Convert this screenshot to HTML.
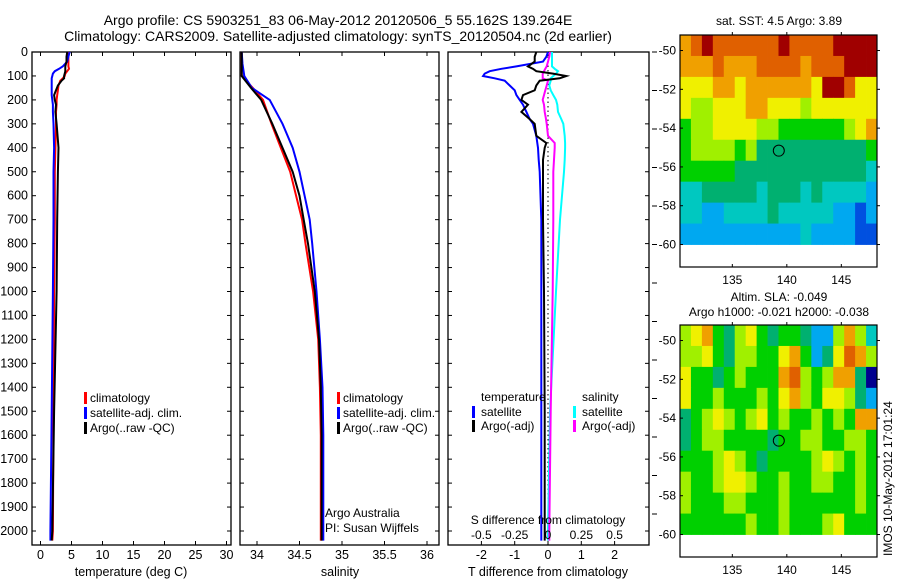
<!DOCTYPE html>
<html><head><meta charset="utf-8">
<style>
html,body{margin:0;padding:0;background:#fff;}
svg{display:block;font-family:"Liberation Sans",sans-serif;}
text{font-size:12.5px;fill:#000;}
</style></head>
<body>
<svg id="chart" width="900" height="580" viewBox="0 0 900 580" xmlns="http://www.w3.org/2000/svg">
<text x="338" y="25" text-anchor="middle" style="font-size:14px">Argo profile: CS 5903251_83 06-May-2012 20120506_5 55.162S 139.264E</text>
<text x="338" y="41" text-anchor="middle" style="font-size:14px">Climatology: CARS2009. Satellite-adjusted climatology: synTS_20120504.nc (2d earlier)</text>
<g id="g"></g>
</svg>
<script>
// ---------- data ----------
const depthTicks = [0,100,200,300,400,500,600,700,800,900,1000,1100,1200,1300,1400,1500,1600,1700,1800,1900,2000];
const tempTicks = [0,5,10,15,20,25,30];
const salTicks = [34,34.5,35,35.5,36];
const salTickLabels = ["34","34.5","35","35.5","36"];
const dTTicks = [-2,-1,0,1,2];
const dSTicks = [-0.5,-0.25,0,0.25,0.5];
const dSTickLabels = ["-0.5","-0.25","0","0.25","0.5"];

const tDepth = [0,20,40,60,70,80,90,100,110,120,140,160,180,200,220,250,300,400,500,700,1000,1500,2000,2040];
const climT  = [4.5,4.5,4.5,4.5,4.6,4.3,4.0,3.9,3.6,3.2,2.9,2.8,2.7,2.6,2.6,2.5,2.5,2.4,2.3,2.3,2.2,2.1,2.0,1.9];
const satT   = [4.7,4.5,4.3,3.6,3.0,2.3,2.0,1.9,1.8,1.8,1.8,1.8,1.8,1.9,2.0,2.0,2.1,2.2,2.1,2.1,2.0,1.8,1.6,1.6];
const argoT  = [4.3,4.2,4.2,4.0,4.0,4.0,3.9,3.8,3.8,3.4,2.8,2.5,2.2,2.3,2.5,2.4,2.6,2.9,2.8,2.7,2.6,2.2,1.9,1.8];

const sDepth = [0,50,100,150,200,300,400,500,600,700,800,1000,1200,1400,1600,2000,2040];
const climS  = [33.82,33.82,33.82,33.95,34.07,34.17,34.28,34.39,34.46,34.53,34.57,34.66,34.72,34.74,34.75,34.75,34.75];
const satS   = [33.82,33.83,33.85,33.94,34.15,34.30,34.42,34.50,34.56,34.62,34.65,34.70,34.74,34.77,34.78,34.78,34.78];
const argoS  = [33.82,33.82,33.82,33.93,34.05,34.18,34.30,34.42,34.50,34.55,34.60,34.68,34.73,34.75,34.76,34.76,34.76];

const dDepth = [0,20,40,60,70,80,90,100,110,120,140,160,180,200,220,250,280,300,350,380,400,450,500,700,1000,1500,2000,2040];
const satDT  = [0,-0.05,-0.15,-0.95,-1.4,-1.75,-1.9,-1.95,-1.6,-1.3,-1.15,-1.0,-0.95,-0.85,-0.75,-0.65,-0.55,-0.45,-0.35,-0.32,-0.3,-0.28,-0.25,-0.2,-0.2,-0.2,-0.2,-0.2];
const argoDT = [-0.35,-0.4,-0.4,-0.6,-0.45,-0.35,0.15,0.55,0.35,-0.25,-0.35,-0.4,-0.75,-0.8,-0.6,-0.8,-0.55,-0.4,-0.35,-0.05,-0.1,-0.15,-0.15,-0.15,-0.12,-0.1,-0.1,-0.1];
const satDS  = [0.03,0.03,0.03,0.03,0.05,0.075,0.06,0.04,0.02,0.02,0.01,0.02,0.04,0.06,0.07,0.075,0.1,0.115,0.125,0.128,0.128,0.125,0.12,0.09,0.06,0.015,0.0,0.0];
const argoDS = [0.015,0.01,0.0,-0.01,-0.02,-0.03,-0.04,-0.04,-0.04,0.0,-0.01,-0.02,-0.03,-0.04,-0.03,-0.025,-0.015,-0.01,0.0,0.05,0.05,0.045,0.04,0.04,0.035,0.02,0.01,0.01];

const latTicks = [-50,-52,-54,-56,-58,-60];
const lonTicks = [135,140,145];
const sstGrid = [
[8,9,10,9,9,9,9,9,9,10,9,9,9,9,10,10,10,10],
[8,8,8,9,8,8,8,9,9,9,9,8,9,9,9,10,10,10],
[7,7,7,8,8,7,8,8,8,8,8,8,7,10,10,9,7,7],
[7,6,6,7,7,7,8,8,7,7,7,6,7,7,7,7,7,7],
[5,6,6,7,7,7,7,6,6,5,5,5,5,5,5,6,7,8],
[5,6,6,6,6,5,6,4,4,4,4,4,4,4,4,4,4,5],
[5,5,5,5,5,4,4,4,4,4,4,4,4,4,4,4,4,3],
[3,3,4,4,4,4,4,3,4,4,4,3,4,3,3,3,3,2],
[3,3,2,2,3,3,3,3,4,3,3,3,3,3,2,2,1,2],
[2,2,2,2,2,2,2,2,2,2,2,3,2,2,2,2,1,1]];
const slaGrid = [
[6,7,8,5,4,6,7,5,4,5,5,4,2,2,6,8,6,3],
[6,6,7,5,4,6,6,5,5,7,8,5,2,4,7,9,8,6],
[7,5,5,4,5,6,5,5,5,8,9,6,5,6,8,8,4,0],
[7,5,5,6,5,5,5,6,5,7,8,6,5,7,7,6,4,2],
[4,5,6,7,6,5,6,7,5,6,5,5,6,5,6,5,8,8],
[4,5,6,6,5,5,5,5,4,5,5,6,6,5,5,6,6,5],
[5,5,5,6,7,6,5,4,5,5,5,5,6,7,6,5,6,5],
[6,5,5,6,7,7,6,5,5,6,5,5,6,6,5,5,6,5],
[6,5,5,5,6,6,5,5,5,6,5,5,5,5,5,5,6,5],
[5,5,5,5,5,5,6,5,5,6,5,5,5,6,7,5,5,5]];
const floatLon = 139.264, floatLat = -55.162;

// ---------- helpers ----------
const NS="http://www.w3.org/2000/svg";
const G=document.getElementById('g');
function mk(tag,attrs,parent){const e=document.createElementNS(NS,tag);for(const k in attrs)e.setAttribute(k,attrs[k]);(parent||G).appendChild(e);return e;}
function txt(x,y,s,anchor,size){const t=mk('text',{x:x,y:y,'text-anchor':anchor||'start'});if(size)t.style.fontSize=size+'px';t.textContent=s;return t;}
const Y=d=>52+d*0.2395;
const xT=v=>40.5+v*6.2;
const xS=v=>257+(v-34)*85;
const xD=v=>548+v*33.3;
const xDS=v=>548+v*133.3;
const TOP=52,BOT=545;
function poly(xs,ds,fx,color,name){const pts=xs.map((v,i)=>fx(v).toFixed(1)+','+Y(ds[i]).toFixed(1)).join(' ');
 const p=mk('polyline',{points:pts,fill:'none',stroke:color,'stroke-width':2,'stroke-linejoin':'miter'});
 
 }
function frame(x0,x1,name){const r=mk('rect',{x:x0,y:TOP,width:x1-x0,height:BOT-TOP,fill:'none',stroke:'#000','stroke-width':1.3});
 
 
 depthTicks.forEach(d=>{mk('line',{x1:x0,x2:x0+4,y1:Y(d),y2:Y(d),stroke:'#000'});mk('line',{x1:x1,x2:x1-4,y1:Y(d),y2:Y(d),stroke:'#000'});});}
function xticks(vals,labels,fx){vals.forEach((v,i)=>{const x=fx(v);mk('line',{x1:x,x2:x,y1:TOP,y2:TOP+4,stroke:'#000'});mk('line',{x1:x,x2:x,y1:BOT,y2:BOT-4,stroke:'#000'});
 const t=txt(x,559,labels[i],'middle');});}
function legBar(x,y,c){mk('rect',{x:x,y:y-10,width:3,height:12,fill:c});}

// ---------- panel 1: temperature ----------
frame(32,231,'temperature-panel');
depthTicks.forEach(d=>{const t=txt(28,Y(d)+4,String(d),'end');});
xticks(tempTicks,tempTicks.map(String),xT);
let t1=txt(131,576,'temperature (deg C)','middle');
poly(climT,tDepth,xT,'#f00','climatology-temp-line');
poly(satT,tDepth,xT,'#00f','satellite-temp-line');
poly(argoT,tDepth,xT,'#000','argo-temp-line');
[['#f00','climatology'],['#00f','satellite-adj. clim.'],['#000','Argo(..raw -QC)']].forEach((l,i)=>{legBar(84,402+i*15,l[0]);const t=txt(90,402+i*15,l[1],'start',12);});

// ---------- panel 2: salinity ----------
frame(240,439,'salinity-panel');
xticks(salTicks,salTickLabels,xS);
let t2=txt(340,576,'salinity','middle');
poly(climS,sDepth,xS,'#f00','climatology-sal-line');
poly(satS,sDepth,xS,'#00f','satellite-sal-line');
poly(argoS,sDepth,xS,'#000','argo-sal-line');
[['#f00','climatology'],['#00f','satellite-adj. clim.'],['#000','Argo(..raw -QC)']].forEach((l,i)=>{legBar(337,402+i*15,l[0]);const t=txt(343,402+i*15,l[1],'start',12);});
txt(325,517,'Argo Australia','start',12);
txt(325,532,'PI: Susan Wijffels','start',12);

// ---------- panel 3: differences ----------
frame(448,649,'difference-panel');
xticks(dTTicks,dTTicks.map(String),xD);
mk('line',{x1:548,x2:548,y1:TOP,y2:BOT,stroke:'#000','stroke-dasharray':'1.5,3'});
poly(satDS,dDepth,xDS,'#0ff','satellite-sal-diff-line');
poly(argoDS,dDepth,xDS,'#f0f','argo-sal-diff-line');
poly(satDT,dDepth,xD,'#00f','satellite-temp-diff-line');
poly(argoDT,dDepth,xD,'#000','argo-temp-diff-line');
let t3=txt(548,576,'T difference from climatology','middle');
let t4=txt(548,524,'S difference from climatology','middle',12);
dSTicks.forEach((v,i)=>{const t=txt(xDS(v),539,dSTickLabels[i],'middle',12);});
txt(481,401,'temperature','start',12);
txt(582,401,'salinity','start',12);
[['#00f','satellite'],['#000','Argo(-adj)']].forEach((l,i)=>{legBar(472,416+i*14,l[0]);const t=txt(481,416+i*14,l[1],'start',12);});
[['#0ff','satellite'],['#f0f','Argo(-adj)']].forEach((l,i)=>{legBar(573,416+i*14,l[0]);const t=txt(582,416+i*14,l[1],'start',12);});
for(let y=52;y<=546;y+=38.5) mk('line',{x1:652,x2:657,y1:y,y2:y,stroke:'#000'});

// ---------- maps ----------
const cmap=['#00008f','#0050e0','#00a8f0','#00c8c0','#00b070','#00d000','#a0f000','#f0f000','#f0a000','#e06000','#a00000'];
function drawMap(grid,top,name){
 const x0=680,x1=877,lat0=-49.2,pxDeg=19.4,lonL=130.2,pxLon=10.9;
 const my=l=>top+(lat0-l)*pxDeg, mx=l=>x0+(l-lonL)*pxLon;
 const dataBot=my(-60), cols=grid[0].length, rows=grid.length;
 const cw=(x1-x0)/cols, rh=(dataBot-top)/rows;
 grid.forEach((row,r)=>row.forEach((v,c)=>{const e=mk('rect',{x:(x0+c*cw).toFixed(2),y:(top+r*rh).toFixed(2),width:(cw+0.4).toFixed(2),height:(rh+0.4).toFixed(2),fill:cmap[v]});
  
  }));
 const bot=top+232;
 const fr=mk('rect',{x:x0,y:top,width:x1-x0,height:bot-top,fill:'none',stroke:'#000','stroke-width':1.2});
 
 
 latTicks.forEach(l=>{const y=my(l);mk('line',{x1:x0,x2:x0+3,y1:y,y2:y,stroke:'#000'});mk('line',{x1:x1,x2:x1+3,y1:y,y2:y,stroke:'#000'});
  const t=txt(676,y+4,String(l),'end',12);});
 lonTicks.forEach(l=>{const x=mx(l);mk('line',{x1:x,x2:x,y1:top,y2:top-3,stroke:'#000'});mk('line',{x1:x,x2:x,y1:bot,y2:bot-3,stroke:'#000'});
  const t=txt(x,bot+17,String(l),'middle',12);});
 const c=mk('circle',{cx:mx(floatLon),cy:my(floatLat),r:5.5,fill:'none',stroke:'#000','stroke-width':1});
 
 
}
drawMap(sstGrid,35,'sst-map');
drawMap(slaGrid,325,'sla-map');
txt(779,25,'sat. SST: 4.5 Argo: 3.89','middle',12);
txt(779,301,'Altim. SLA: -0.049','middle',12);
txt(779,316,'Argo h1000: -0.021 h2000: -0.038','middle',12);
const rt=txt(0,0,'IMOS 10-May-2012 17:01:24','start',12);
rt.setAttribute('transform','translate(892,556) rotate(-90)');


</script>
</body></html>
